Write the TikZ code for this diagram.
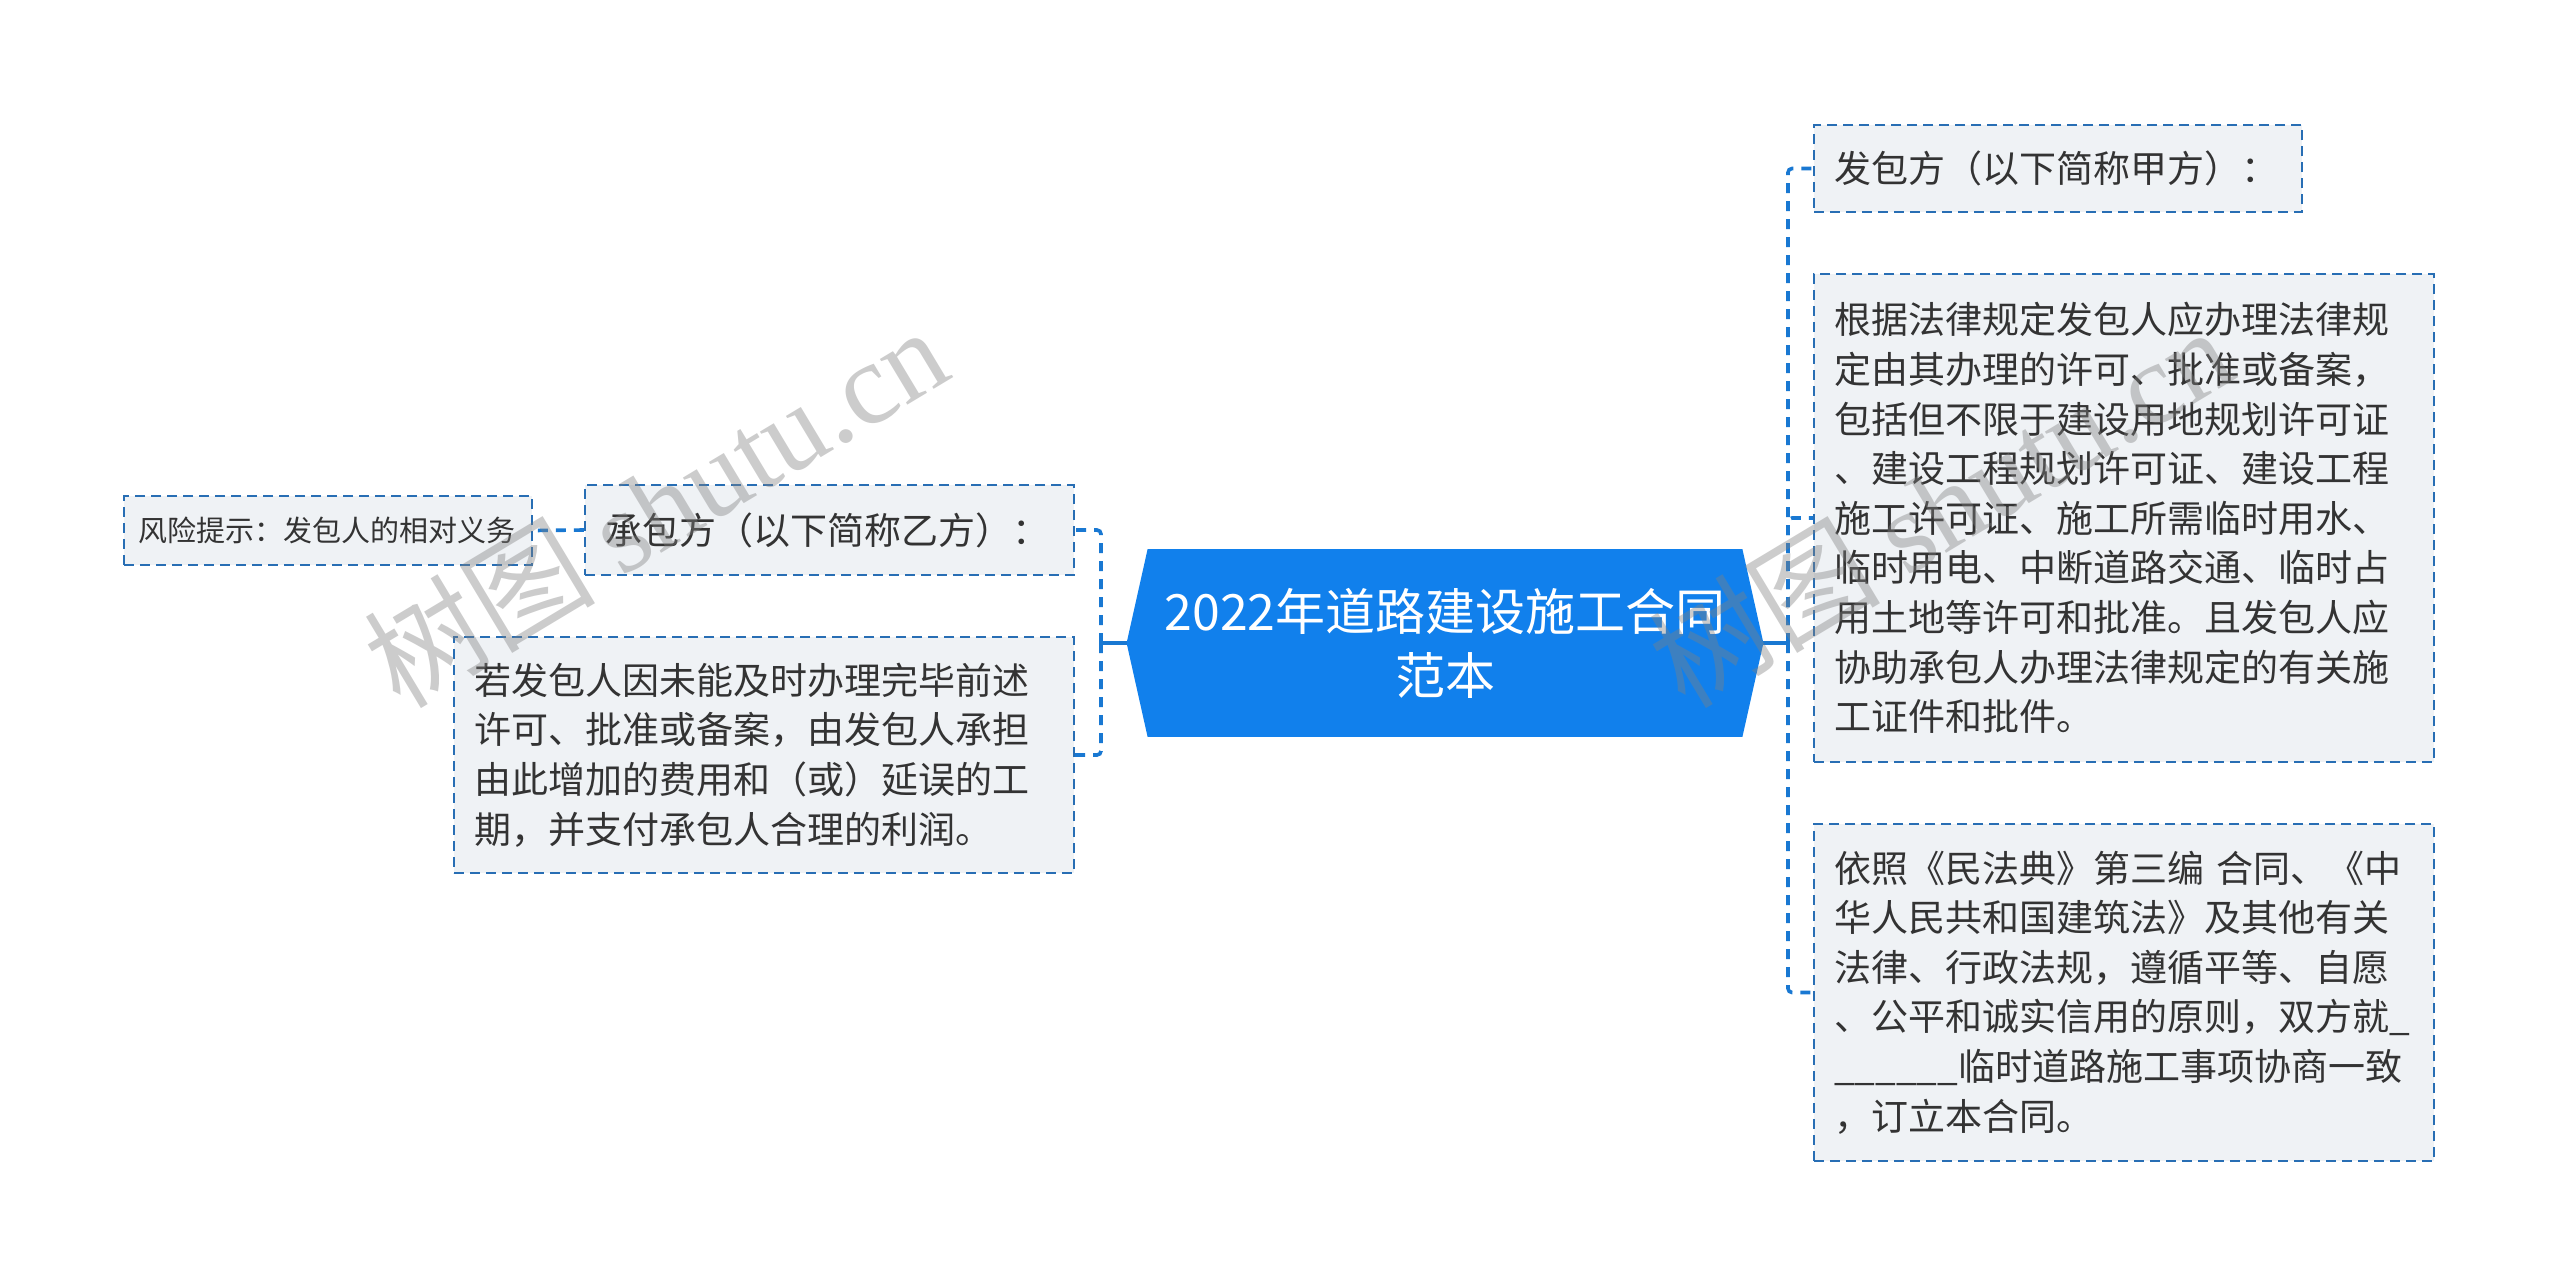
\documentclass[tikz,border=0pt]{standalone}
\usepackage{fontspec}
\setmainfont{Noto Sans CJK SC}
\newfontfamily\wmserif{Liberation Serif}
\usetikzlibrary{backgrounds}
\definecolor{titlefill}{RGB}{17,128,236}
\definecolor{connblue}{RGB}{25,120,210}
\definecolor{boxborder}{RGB}{40,110,180}
\definecolor{boxfill}{RGB}{239,242,245}
\definecolor{txt}{RGB}{51,51,51}
\definecolor{wmgray}{RGB}{128,128,128}
\begin{document}
\begin{tikzpicture}[x=0.5pt,y=-0.5pt,
  leaf/.style={draw=boxborder, fill=boxfill, line width=1.2pt, dash pattern=on 5pt off 3pt,
    text=txt, align=left, inner xsep=10pt, inner ysep=0pt, font=\fontsize{18.5}{24.8}\selectfont},
  conn/.style={draw=connblue, line width=1.8pt, dash pattern=on 5pt off 4pt, rounded corners=2pt},
  trunk/.style={draw=connblue, line width=1.8pt},
  title/.style={text=white, align=center, font=\fontsize{25}{32}\selectfont,
    minimum width=318pt, minimum height=93.5pt, inner sep=0pt},
  wm/.style={text=wmgray, text opacity=0.4, inner sep=0pt, font=\fontsize{58}{60}\selectfont}]
\useasboundingbox (0,0) rectangle (2560,1286);

% central node
\node[title] (c) at (1445,643) {2022年道路建设施工合同\\范本};
\begin{scope}[on background layer]
  \fill[white] (0,0) rectangle (2560,1286);
  \fill[titlefill] (c.west) -- ([xshift=10.5pt]c.north west) -- ([xshift=-10.5pt]c.north east)
    -- (c.east) -- ([xshift=-10.5pt]c.south east) -- ([xshift=10.5pt]c.south west) -- cycle;
\end{scope}

% right branch
\node[leaf, text width=224pt, minimum height=43.5pt] (n1) at (2058,168.5) {发包方（以下简称甲方）：};
\node[leaf, text width=290pt, minimum height=244pt] (n2) at (2124,518) {根据法律规定发包人应办理法律规\\定由其办理的许可、批准或备案，\\包括但不限于建设用地规划许可证\\、建设工程规划许可证、建设工程\\施工许可证、施工所需临时用水、\\临时用电、中断道路交通、临时占\\用土地等许可和批准。且发包人应\\协助承包人办理法律规定的有关施\\工证件和批件。};
\node[leaf, text width=290pt, minimum height=168.5pt] (n3) at (2124,992.5) {依照《民法典》第三编 合同、《中\\华人民共和国建筑法》及其他有关\\法律、行政法规，遵循平等、自愿\\、公平和诚实信用的原则，双方就\_\\\_\_\_\_\_\_临时道路施工事项协商一致\\，订立本合同。};

% left branch
\node[leaf, text width=224.5pt, minimum height=45pt] (l1) at (829.5,530) {承包方（以下简称乙方）：};
\node[leaf, text width=290pt, minimum height=118pt] (l2) at (764,755) {若发包人因未能及时办理完毕前述\\许可、批准或备案，由发包人承担\\由此增加的费用和（或）延误的工\\期，并支付承包人合理的利润。};
\node[leaf, text width=190pt, inner xsep=7pt, minimum height=34.5pt, font=\fontsize{14.5}{18}\selectfont] (r1) at (328,530.5) {风险提示：发包人的相对义务};

% connectors
\coordinate (jl) at (1101,643);
\coordinate (jr) at (1788,643);
\draw[trunk] (c.west) -- (jl);
\draw[trunk] (c.east) -- (jr);
\draw[conn] (jr) |- (n1.west);
\draw[conn] (jr) |- (n2.west);
\draw[conn] (jr) |- (n3.west);
\draw[conn] (jl) |- (l1.east);
\draw[conn] (jl) |- (l2.east);
\draw[conn] (l1.west) -- (r1.east);

% watermarks
\node[wm, rotate=31] (wm1) at (655,506) {树图 {\wmserif shutu.cn}};
\node[wm, rotate=31] (wm2) at (1940,506) {树图 {\wmserif shutu.cn}};
\end{tikzpicture}
\end{document}
